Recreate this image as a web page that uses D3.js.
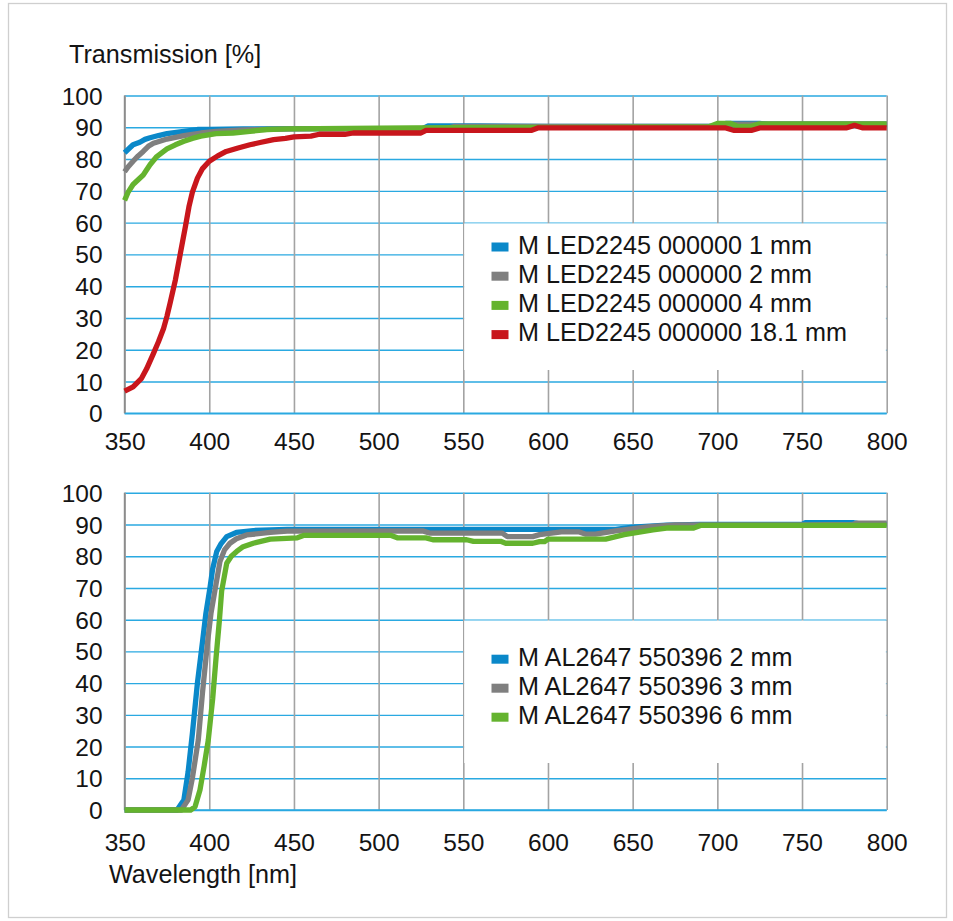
<!DOCTYPE html>
<html>
<head>
<meta charset="utf-8">
<script src="https://cdn.jsdelivr.net/npm/d3@7"></script>
<style>
  html, body { margin: 0; padding: 0; background: #fff; }
  svg { display: block; font-family: "Liberation Sans", Arial, Helvetica, sans-serif; }
</style>
</head>
<body>
<svg id="chart" width="953" height="921"></svg>
<script>
// ---------------- DATA ----------------
const xTicks = [350, 400, 450, 500, 550, 600, 650, 700, 750, 800];
const yTicks = [0, 10, 20, 30, 40, 50, 60, 70, 80, 90, 100];
const yLabel = "Transmission [%]";
const xLabel = "Wavelength [nm]";

// Top chart series: [wavelength nm, transmission %]
const led1mm = [[350,82],[352,83],[355,84.5],[359,85.3],[362,86.2],[365,86.7],[370,87.4],[375,88],[385,88.7],[393,89.3],[400,89.3],[420,89.5],[450,89.6],[500,89.6],[526,89.6],[529,90.4],[560,90.4],[600,90.3],[700,90.3],[705,91.2],[725,91.2],[730,91],[800,91]];
const led2mm = [[350,76],[352,77.5],[355,79.3],[358,81],[361,82.4],[364,84],[367,85],[375,86.3],[385,87.4],[395,88.2],[404,88.7],[420,89.2],[450,89.5],[500,89.6],[540,89.6],[545,90.3],[560,90.3],[600,90.3],[700,90.3],[710,91],[800,91]];
const led4mm = [[350,67],[352,69.5],[355,72],[358,73.5],[361,75],[365,78.2],[369,80.8],[375,83.2],[380,84.5],[385,85.6],[390,86.5],[395,87.2],[404,88],[414,88.2],[424,88.7],[434,89.3],[446,89.5],[500,89.7],[520,89.8],[600,90],[695,90.2],[700,91.2],[708,91.2],[712,90.3],[720,90.3],[725,91.1],[800,91.1]];
const led18mm = [[350,7],[355,8.3],[360,11],[363,14],[367,18.8],[370,22.5],[373,26.7],[375,30.5],[377,35],[380,42],[383,50.5],[386,59],[388,65],[390,69.5],[393,74],[396,77],[400,79.3],[405,81],[410,82.4],[417,83.5],[424,84.5],[430,85.2],[438,86.1],[445,86.5],[450,87],[460,87.2],[465,87.8],[480,87.8],[485,88.2],[525,88.2],[528,89],[590,89],[594,89.8],[705,89.8],[710,89],[720,89],[725,89.8],[776,89.8],[781,90.6],[786,89.8],[800,89.8]];

// Bottom chart series
const al2mm = [[350,0],[381,0],[385,3.2],[387.5,12],[390,24],[393,40],[396,53],[398,62],[400.4,70],[402,76],[404.4,81.5],[407,84],[410.3,86.2],[416,87.5],[426,88.1],[446,88.5],[500,88.5],[640,88.5],[650,89.2],[670,89.8],[690,90],[750,90],[752,90.6],[780,90.6],[785,90.1],[800,90.1]];
const al3mm = [[350,0],[383.5,0],[387.5,3.2],[390,10],[393.5,22],[396,37],[399,53],[401,62],[403.4,69.4],[406.3,78.3],[409,82],[412.2,84.1],[416,85.5],[422,86.7],[436,87.5],[446,87.9],[526,88],[530,87.3],[573,87.3],[576,86.2],[591,86.2],[595,86.8],[608,87.7],[618,87.7],[622,87],[628,87],[640,88],[660,89.3],[675,89.9],[750,89.9],[780,90],[782,90.4],[800,90.4]];
const al6mm = [[350,0],[389,0],[391.6,1],[394.5,6.3],[397,14],[399.4,22],[402,35],[404,48],[406,60],[407.3,69],[410.3,77.8],[413,80],[416.2,81.5],[420,83],[426,84.1],[436,85.4],[452,85.8],[456,86.6],[507,86.6],[511,85.8],[528,85.8],[532,85.2],[552,85.2],[556,84.7],[572,84.7],[575,84.1],[591,84.1],[595,84.6],[598,84.6],[600,85.4],[634,85.4],[645,86.8],[662,88.3],[670,88.9],[686,88.9],[690,89.7],[800,89.7]];

const topNames = ["M LED2245 000000 1 mm", "M LED2245 000000 2 mm", "M LED2245 000000 4 mm", "M LED2245 000000 18.1 mm"];
const topColors = ["#0a88c9", "#7f7f7f", "#64b32e", "#c8161c"];
const botNames = ["M AL2647 550396 2 mm", "M AL2647 550396 3 mm", "M AL2647 550396 6 mm"];
const botColors = ["#0a88c9", "#7f7f7f", "#64b32e"];

// ---------------- DRAW ----------------
const svg = d3.select("#chart");
const FONT = 25.2;
const TICKFONT = 24.5;
const TEXT = "#141414";

svg.append("rect").attr("x", 8.5).attr("y", 3.5).attr("width", 938).attr("height", 914)
  .attr("fill", "#fff").attr("stroke", "#cfcfcf").attr("stroke-width", 1.3);

const x = d3.scaleLinear().domain([350, 800]).range([124.6, 886.7]);

function panel(cfg) {
  const y = d3.scaleLinear().domain([0, 100]).range([cfg.y0, cfg.y100]);
  const g = svg.append("g");
  // horizontal grid (blue)
  g.append("g").call(d3.axisLeft(y).tickValues(yTicks).tickSize(-(x(800) - x(350))).tickFormat(""))
    .attr("transform", `translate(${x(350)},0)`)
    .call(a => a.select(".domain").remove())
    .call(a => a.selectAll("line").attr("stroke", "#2aa9e1").attr("stroke-width", 1.4));
  // vertical grid (grey)
  g.append("g").call(d3.axisBottom(x).tickValues(xTicks).tickSize(-(cfg.y0 - cfg.y100)).tickFormat(""))
    .attr("transform", `translate(0,${cfg.y0})`)
    .call(a => a.select(".domain").remove())
    .call(a => a.selectAll("line").attr("stroke", "#a3a3a3").attr("stroke-width", 1.6));
  // legend box blanking
  const lb = cfg.legendBox;
  g.append("rect").attr("x", x(550) + 0.9).attr("y", y(lb[0]) + 0.8)
    .attr("width", x(800) - x(550) - 1.7).attr("height", lb[1] - y(lb[0]) - 0.8).attr("fill", "#fff");
  // bottom blue line and left axis
  g.append("line").attr("x1", x(350)).attr("x2", x(800)).attr("y1", y(0)).attr("y2", y(0))
    .attr("stroke", "#2aa9e1").attr("stroke-width", 1.6);
  g.append("line").attr("x1", x(350)).attr("x2", x(350)).attr("y1", y(100)).attr("y2", y(0))
    .attr("stroke", "#8c8c8c").attr("stroke-width", 1.6);
  // tick labels
  g.append("g").attr("transform", `translate(${x(350)},0)`)
    .call(d3.axisLeft(y).tickValues(yTicks).tickSize(0).tickPadding(22))
    .call(a => a.select(".domain").remove())
    .call(a => a.selectAll("text").attr("font-size", TICKFONT).attr("fill", TEXT).attr("font-family", null).attr("dy", "0.35em"));
  g.append("g").attr("transform", `translate(0,${cfg.y0})`)
    .call(d3.axisBottom(x).tickValues(xTicks).tickSize(0).tickPadding(cfg.xPad))
    .call(a => a.select(".domain").remove())
    .call(a => a.selectAll("text").attr("font-size", TICKFONT).attr("fill", TEXT).attr("font-family", null));
  // series
  const line = d3.line().x(d => x(d[0])).y(d => y(d[1]));
  cfg.series.forEach((s, i) => {
    g.append("path").datum(s).attr("d", line).attr("fill", "none")
      .attr("stroke", cfg.colors[i]).attr("stroke-width", 5.3)
      .attr("stroke-linejoin", "round").attr("stroke-linecap", "butt");
  });
  // legend
  cfg.names.forEach((n, i) => {
    const cy = cfg.legY + i * cfg.legStep;
    g.append("rect").attr("x", 491.5).attr("y", cy - 4.5).attr("width", 17).attr("height", 9).attr("fill", cfg.colors[i]);
    g.append("text").attr("x", 518).attr("y", cy + 6.8).attr("font-size", FONT).attr("fill", TEXT).text(n);
  });
}

panel({ y0: 413.3, y100: 95.5, xPad: 19, series: [led1mm, led2mm, led4mm, led18mm], colors: topColors,
        names: topNames, legendBox: [60, 370], legY: 247, legStep: 29.2 });
panel({ y0: 810, y100: 492.8, xPad: 23.5, series: [al2mm, al3mm, al6mm], colors: botColors,
        names: botNames, legendBox: [60, 763], legY: 659.2, legStep: 29 });

svg.append("text").attr("x", 69).attr("y", 63).attr("font-size", FONT).attr("fill", TEXT).text(yLabel);
svg.append("text").attr("x", 109).attr("y", 883).attr("font-size", FONT).attr("fill", TEXT).text(xLabel);
</script>
</body>
</html>
